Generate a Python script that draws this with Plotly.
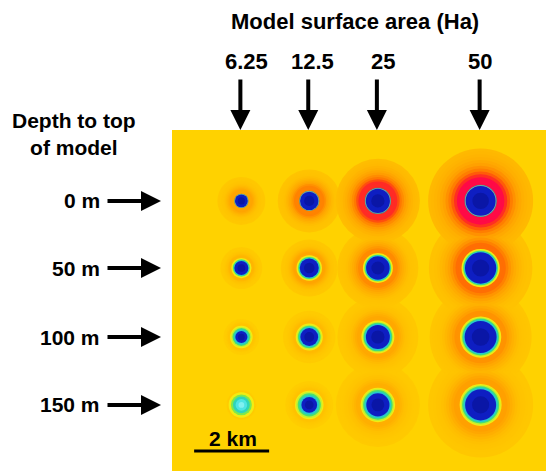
import plotly.graph_objects as go

# ---------------- data ----------------
areas_ha = ["6.25", "12.5", "25", "50"]           # model surface area (Ha)
depths_m = ["0 m", "50 m", "100 m", "150 m"]      # depth to top of model
col_x_km = [1.85, 3.66, 5.49, 8.23]               # model centre, km east
row_y_km = [1.89, 3.68, 5.52, 7.33]               # model centre, km south

# radius of the low (blue + rim) anomaly, km  [row][col]
anomaly_r_km = [
    [0.19, 0.27, 0.35, 0.43],
    [0.24, 0.31, 0.37, 0.48],
    [0.27, 0.33, 0.41, 0.52],
    [0.31, 0.35, 0.43, 0.53],
]
# fraction of that radius that is in the deepest (blue) class
blue_frac = [
    [0.90, 0.91, 0.92, 0.93],
    [0.78, 0.82, 0.85, 0.87],
    [0.60, 0.72, 0.78, 0.82],
    [0.00, 0.60, 0.72, 0.78],
]
# outer radius of the surrounding high (orange/red) halo, km
halo_r_km = [
    [0.64, 0.84, 1.12, 1.40],
    [0.56, 0.76, 1.08, 1.38],
    [0.48, 0.70, 1.08, 1.36],
    [0.40, 0.64, 1.12, 1.40],
]
# peak intensity of halo (0 = background, 1 = strongest)
halo_peak = [
    [0.46, 0.64, 0.90, 1.00],
    [0.33, 0.46, 0.60, 0.72],
    [0.20, 0.30, 0.44, 0.56],
    [0.10, 0.22, 0.38, 0.50],
]
scale_bar_km = [0.59, 2.59]
scale_bar_y_km = 8.56

# ---------------- style ----------------
PX_PER_KM = 37.5
W, H = 546, 471
PANEL_X0, PANEL_Y0 = 172, 130
panel_w_km = (W - PANEL_X0) / PX_PER_KM
panel_h_km = (H - PANEL_Y0) / PX_PER_KM
BG = "#FFD200"
halo_stops = [(0.0, (255, 210, 0)), (0.25, (255, 192, 0)), (0.5, (255, 160, 0)),
              (0.7, (255, 118, 0)), (0.85, (255, 60, 20)), (1.0, (255, 10, 70))]
BLUE = "#0E1EC2"
BLUE_DARK = "#0A16A6"
FONT = dict(family="Liberation Sans, Arial, sans-serif", size=21, color="black")
FONT_TOP = dict(FONT, size=22)


def halo_color(s):
    for (a, ca), (b, cb) in zip(halo_stops[:-1], halo_stops[1:]):
        if s <= b:
            t = (s - a) / (b - a) if b > a else 0
            c = [round(ca[i] + (cb[i] - ca[i]) * t) for i in range(3)]
            return "rgb(%d,%d,%d)" % tuple(c)
    return "rgb(%d,%d,%d)" % halo_stops[-1][1]


def circle(cx, cy, r, color):
    return dict(type="circle", xref="x", yref="y", x0=cx - r, x1=cx + r,
                y0=cy - r, y1=cy + r, fillcolor=color, line=dict(width=0),
                layer="below")


shapes = [dict(type="rect", xref="x", yref="y", x0=0, x1=panel_w_km, y0=0,
               y1=panel_h_km, fillcolor=BG, line=dict(width=0), layer="below")]

# halos (sorted by intensity so stronger colours sit on top)
NL = 12
halo_list = []
for i, cy in enumerate(row_y_km):
    for j, cx in enumerate(col_x_km):
        R = anomaly_r_km[i][j]
        Rh = halo_r_km[i][j]
        pk = halo_peak[i][j]
        for k in range(NL):
            f = (k + 1) / NL
            r = R + 0.05 + (Rh - R - 0.05) * (1 - k / NL)
            s = pk * (0.3 + 0.7 * min(1.0, f / 0.9) ** 2.2)
            halo_list.append((s, r, cx, cy))
halo_list.sort(key=lambda t: (t[0], -t[1]))
for s, r, cx, cy in halo_list:
    shapes.append(circle(cx, cy, r, halo_color(s)))

# cores
for i, cy in enumerate(row_y_km):
    for j, cx in enumerate(col_x_km):
        R = anomaly_r_km[i][j]
        Rb = R * blue_frac[i][j]
        w = R - Rb
        if i == 0:
            shapes.append(circle(cx, cy, R + 0.03, halo_color(halo_peak[i][j])))
            shapes.append(circle(cx, cy, R, "#3E8C8C"))
            shapes.append(circle(cx, cy, R - 0.4 * w, "#7FB8A0"))
        elif Rb <= 0:
            shapes.append(circle(cx, cy, R + 0.03, "#F2EC12"))
            shapes.append(circle(cx, cy, R - 0.1 * R, "#7CE850"))
            shapes.append(circle(cx, cy, 0.72 * R, "#30D4B8"))
            shapes.append(circle(cx, cy, 0.5 * R, "#4EE4E4"))
            shapes.append(circle(cx, cy, 0.25 * R, "#80F0F0"))
        else:
            shapes.append(circle(cx, cy, R + 0.03, "#F2EC12"))
            shapes.append(circle(cx, cy, R, "#C4F030"))
            shapes.append(circle(cx, cy, Rb + 0.7 * w, "#48E070"))
            shapes.append(circle(cx, cy, Rb + 0.4 * w, "#26C8CC"))
        if Rb > 0:
            shapes.append(circle(cx, cy, Rb, BLUE))
            shapes.append(circle(cx, cy, Rb * 0.55, BLUE_DARK))

fig = go.Figure()
fig.add_trace(go.Scatter(x=scale_bar_km, y=[scale_bar_y_km] * 2, mode="lines",
                         line=dict(color="black", width=3), hoverinfo="skip",
                         showlegend=False))

TXT = dict(showarrow=False, xanchor="center", yanchor="middle")
ARW = dict(text="", showarrow=True, arrowhead=2, arrowwidth=4, arrowsize=1.0,
           arrowcolor="black")
ann = []
ann.append(dict(text="<b>2 km</b>", x=sum(scale_bar_km) / 2 + 0.03,
                y=scale_bar_y_km - 0.34, xref="x", yref="y", font=FONT, **TXT))
ann.append(dict(text="<b>Model surface area (Ha)</b>", x=355 / W, y=1 - 22 / H,
                xref="paper", yref="paper", font=FONT_TOP, **TXT))
ann.append(dict(text="<b>Depth to top<br>of model</b>", x=74 / W, y=1 - 134 / H,
                xref="paper", yref="paper", font=FONT, **TXT))
label_shift = [6, 4, 6, 0]
for j, (cx, lab) in enumerate(zip(col_x_km, areas_ha)):
    ann.append(dict(text="<b>%s</b>" % lab, x=cx, y=1 - 62 / H, xref="x",
                    yref="paper", xshift=label_shift[j] - 1, font=FONT_TOP, **TXT))
    ann.append(dict(x=cx, y=1 - 130 / H, xref="x", yref="paper",
                    ax=0, ay=-52, xshift=-1, **ARW))
for i, (cy, lab) in enumerate(zip(row_y_km, depths_m)):
    ann.append(dict(text="<b>%s</b>" % lab, x=102 / W, y=cy, xref="paper",
                    yref="y", showarrow=False, font=FONT, xanchor="right",
                    yanchor="middle"))
    ann.append(dict(x=161 / W, y=cy, xref="paper", yref="y",
                    ax=-55, ay=0, **ARW))

fig.update_layout(
    width=W, height=H, margin=dict(l=0, r=0, t=0, b=0),
    paper_bgcolor="white", plot_bgcolor=BG,
    xaxis=dict(range=[0, panel_w_km], domain=[PANEL_X0 / W, 1], visible=False,
               fixedrange=True),
    yaxis=dict(range=[panel_h_km, 0], domain=[0, 1 - PANEL_Y0 / H], visible=False,
               fixedrange=True),
    shapes=shapes, annotations=ann, showlegend=False,
)
fig.write_html("out.html")
